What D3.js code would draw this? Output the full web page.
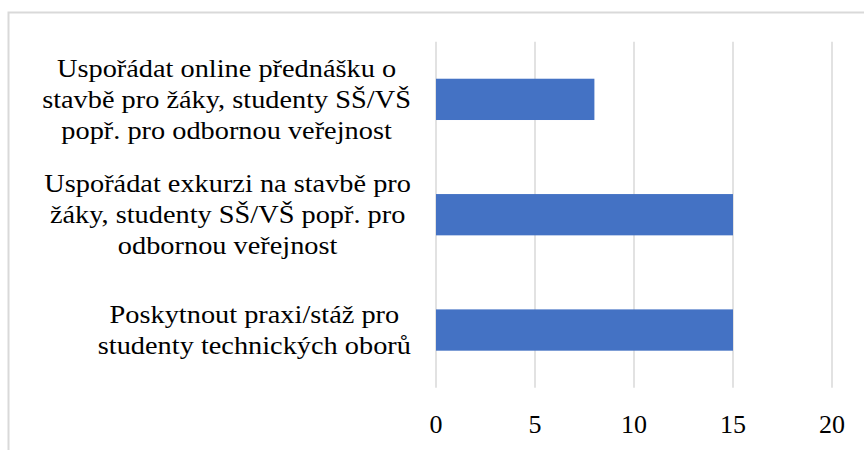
<!DOCTYPE html>
<html>
<head>
<meta charset="utf-8">
<script src="https://cdn.jsdelivr.net/npm/d3@7"></script>
<style>
  html, body { margin: 0; padding: 0; background: #fff; }
  svg { display: block; }
</style>
</head>
<body>
<svg id="chart" width="864" height="450"></svg>
<script>
// Data
const categories = [
  ["Uspořádat online přednášku o", "stavbě pro žáky, studenty SŠ/VŠ", "popř. pro odbornou veřejnost"],
  ["Uspořádat exkurzi na stavbě pro", "žáky, studenty SŠ/VŠ popř. pro", "odbornou veřejnost"],
  ["Poskytnout praxi/stáž pro", "studenty technických oborů"]
];
const values = [8, 15, 15];
const xTicks = [0, 5, 10, 15, 20];

const FONT = "'Liberation Serif', 'Times New Roman', Tinos, 'DejaVu Serif', serif";
const svg = d3.select("#chart");
const W = 864, H = 450;
const margin = { left: 436, right: 32, top: 41.7, bottom: 62.3 };
const fontSize = 26;
const stretch = 1.09;
const lineH = 31;

// chart border (left and top visible, extends beyond viewport)
svg.append("rect")
  .attr("x", 8.5).attr("y", 12.5)
  .attr("width", 900).attr("height", 500)
  .attr("fill", "none").attr("stroke", "#d9d9d9").attr("stroke-width", 2);

const x = d3.scaleLinear().domain([0, 20]).range([margin.left, W - margin.right]);
const y = d3.scaleBand()
  .domain(d3.range(categories.length))
  .range([margin.top, H - margin.bottom])
  .paddingInner(0.642).paddingOuter(0.321);

// gridlines
svg.append("g").selectAll("line").data(xTicks).join("line")
  .attr("x1", d => x(d)).attr("x2", d => x(d))
  .attr("y1", margin.top).attr("y2", H - margin.bottom)
  .attr("stroke", "#d9d9d9").attr("stroke-width", 1.5);

// bars
svg.append("g").selectAll("rect").data(values).join("rect")
  .attr("x", x(0))
  .attr("y", (d, i) => y(i))
  .attr("width", d => x(d) - x(0))
  .attr("height", y.bandwidth())
  .attr("fill", "#4472C4");

// x tick labels
svg.append("g").selectAll("text").data(xTicks).join("text")
  .attr("x", d => x(d))
  .attr("y", 433)
  .attr("text-anchor", "middle")
  .style("font-family", FONT)
  .style("font-size", fontSize + "px")
  .attr("fill", "#000")
  .text(d => d);

// category labels: centered block, right-aligned to axis
const labelRight = 411;
const lg = svg.append("g");
categories.forEach((lines, i) => {
  const cy = y(i) + y.bandwidth() / 2;
  const n = lines.length;
  const g = lg.append("g");
  const texts = lines.map((ln, k) =>
    g.append("text")
      .style("font-family", FONT)
      .style("font-size", fontSize + "px")
      .attr("fill", "#000")
      .attr("text-anchor", "middle")
      .attr("x", 0)
      .attr("y", cy + (k - (n - 1) / 2) * lineH + fontSize * 0.33)
      .text(ln)
  );
  const maxW = d3.max(texts, t => t.node().getComputedTextLength()) * stretch;
  g.attr("transform", `translate(${labelRight - maxW / 2},0) scale(${stretch},1)`);
});
</script>
</body>
</html>
